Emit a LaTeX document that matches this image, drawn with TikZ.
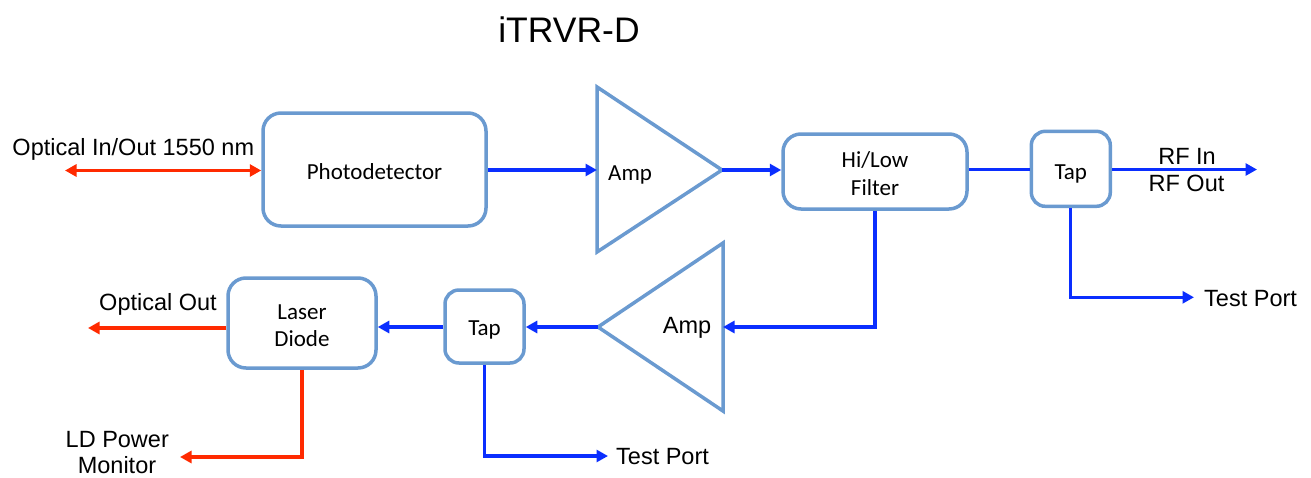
\documentclass[tikz,border=0pt]{standalone}
\usepackage{fontspec}
\setmainfont{Liberation Sans}
\newfontfamily\calib{Carlito}
\usetikzlibrary{arrows.meta}
\definecolor{boxc}{HTML}{6A9AD0}
\definecolor{bl}{HTML}{0A2EFF}
\definecolor{rd}{HTML}{FF2A00}
\begin{document}
\begin{tikzpicture}[x=1pt,y=-1pt,
  blk/.style={draw=boxc,line width=3.5pt,rounded corners=18pt,inner sep=0pt},
  tapbox/.style={blk,rounded corners=14pt,minimum width=79pt},
  btxt/.style={font=\calib\fontsize{23}{27}\selectfont,inner sep=0pt,anchor=base},
  amp/.style={draw=boxc,line width=3.5pt,line join=miter},
  bw/.style={bl,line width=3.2pt},
  rw/.style={rd,line width=3.2pt},
  tipend/.style={-{Triangle[length=11.5pt,width=12pt]}},
  lbl/.style={font=\fontsize{23.5}{27}\selectfont,inner sep=0pt,anchor=base}]
\useasboundingbox (0,0) rectangle (1311,477);

% title
\node[font=\fontsize{35.5}{40}\selectfont,inner sep=0pt,anchor=base] (title) at (569,42) {iTRVR-D};

% blocks
\node[blk,minimum width=223pt,minimum height=113pt] (pd) at (374.5,169.5) {};
\node[blk,minimum width=184pt,minimum height=75pt] (filt) at (875,171.5) {};
\node[tapbox,minimum height=75pt] (tapa) at (1070.8,168.8) {};
\node[tapbox,minimum height=73pt] (tapb) at (484.5,326.5) {};
\node[blk,minimum width=148pt,minimum height=90pt] (ld) at (302,323) {};

% block texts
\node[btxt] (pdt) at ([yshift=-9.8pt]pd.center) {Photodetector};
\node[btxt] (filt1) at ([yshift=4pt]filt.center) {Hi/Low};
\node[btxt] (filt2) at ([yshift=-23.7pt]filt.center) {Filter};
\node[btxt] (tapat) at ([yshift=-10.5pt]tapa.center) {Tap};
\node[btxt] (tapbt) at ([yshift=-8.5pt]tapb.center) {Tap};
\node[btxt] (ld1) at ([yshift=4pt]ld.center) {Laser};
\node[btxt] (ld2) at ([yshift=-23.7pt]ld.center) {Diode};

% amplifiers
\coordinate (a1in) at (597,170);
\coordinate (a1out) at (722,170);
\draw[amp] (597,87) -- (a1out) -- (597,252) -- cycle;
\node[btxt,anchor=base west] (amp1) at (608,180.7) {Amp};

\coordinate (a2in) at (723,327);
\coordinate (a2out) at (598,327);
\draw[amp] (723,243) -- (723,411) -- (a2out) -- cycle;
\node[lbl] (amp2) at (687,333.5) {Amp};

% end points
\coordinate (oin) at (65,170.5);
\coordinate (rfend) at (1257,169.5);
\coordinate (tpa) at (1194,297.3);
\coordinate (ooend) at (88,328);
\coordinate (ldend) at (180,457);
\coordinate (tpb) at (608,456);

% connectors
\draw[rw,{Triangle[length=11.5pt,width=12pt]}-{Triangle[length=11.5pt,width=12pt]}] (oin) -- (pd.west |- oin);
\draw[bw,tipend] (pd.east |- a1in) -- (a1in);
\draw[bw,tipend] (a1out) -- (filt.west |- a1out);
\draw[bw] (filt.east |- rfend) -- (tapa.west |- rfend);
\draw[bw,tipend] (tapa.east |- rfend) -- (rfend);
\draw[bw,tipend] (tapa.south) |- (tpa);
\draw[bw,tipend] (filt.south) |- (a2in);
\draw[bw,tipend] (a2out) -- (tapb.east |- a2out);
\draw[bw,tipend] (tapb.west |- a2out) -- (ld.east |- a2out);
\draw[rw,tipend] (ld.west |- ooend) -- (ooend);
\draw[rw,tipend] (ld.south) |- (ldend);
\draw[bw,tipend] (tapb.south) |- (tpb);

% labels
\node[lbl] (l1) at (133.3,155) {Optical In/Out 1550 nm};
\node[lbl] (l2) at (1187,164.3) {RF In};
\node[lbl] (l3) at (1186.5,191.7) {RF Out};
\node[lbl,anchor=base west] (l4) at (1204,306.7) {Test Port};
\node[lbl] (l5) at (158,310.7) {Optical Out};
\node[lbl] (l6) at (117.3,447) {LD Power};
\node[lbl,text depth=0pt] (l7) at (117,473.5) {Monitor};
\node[lbl,anchor=base west] (l8) at (616,464.3) {Test Port};
\end{tikzpicture}
\end{document}
